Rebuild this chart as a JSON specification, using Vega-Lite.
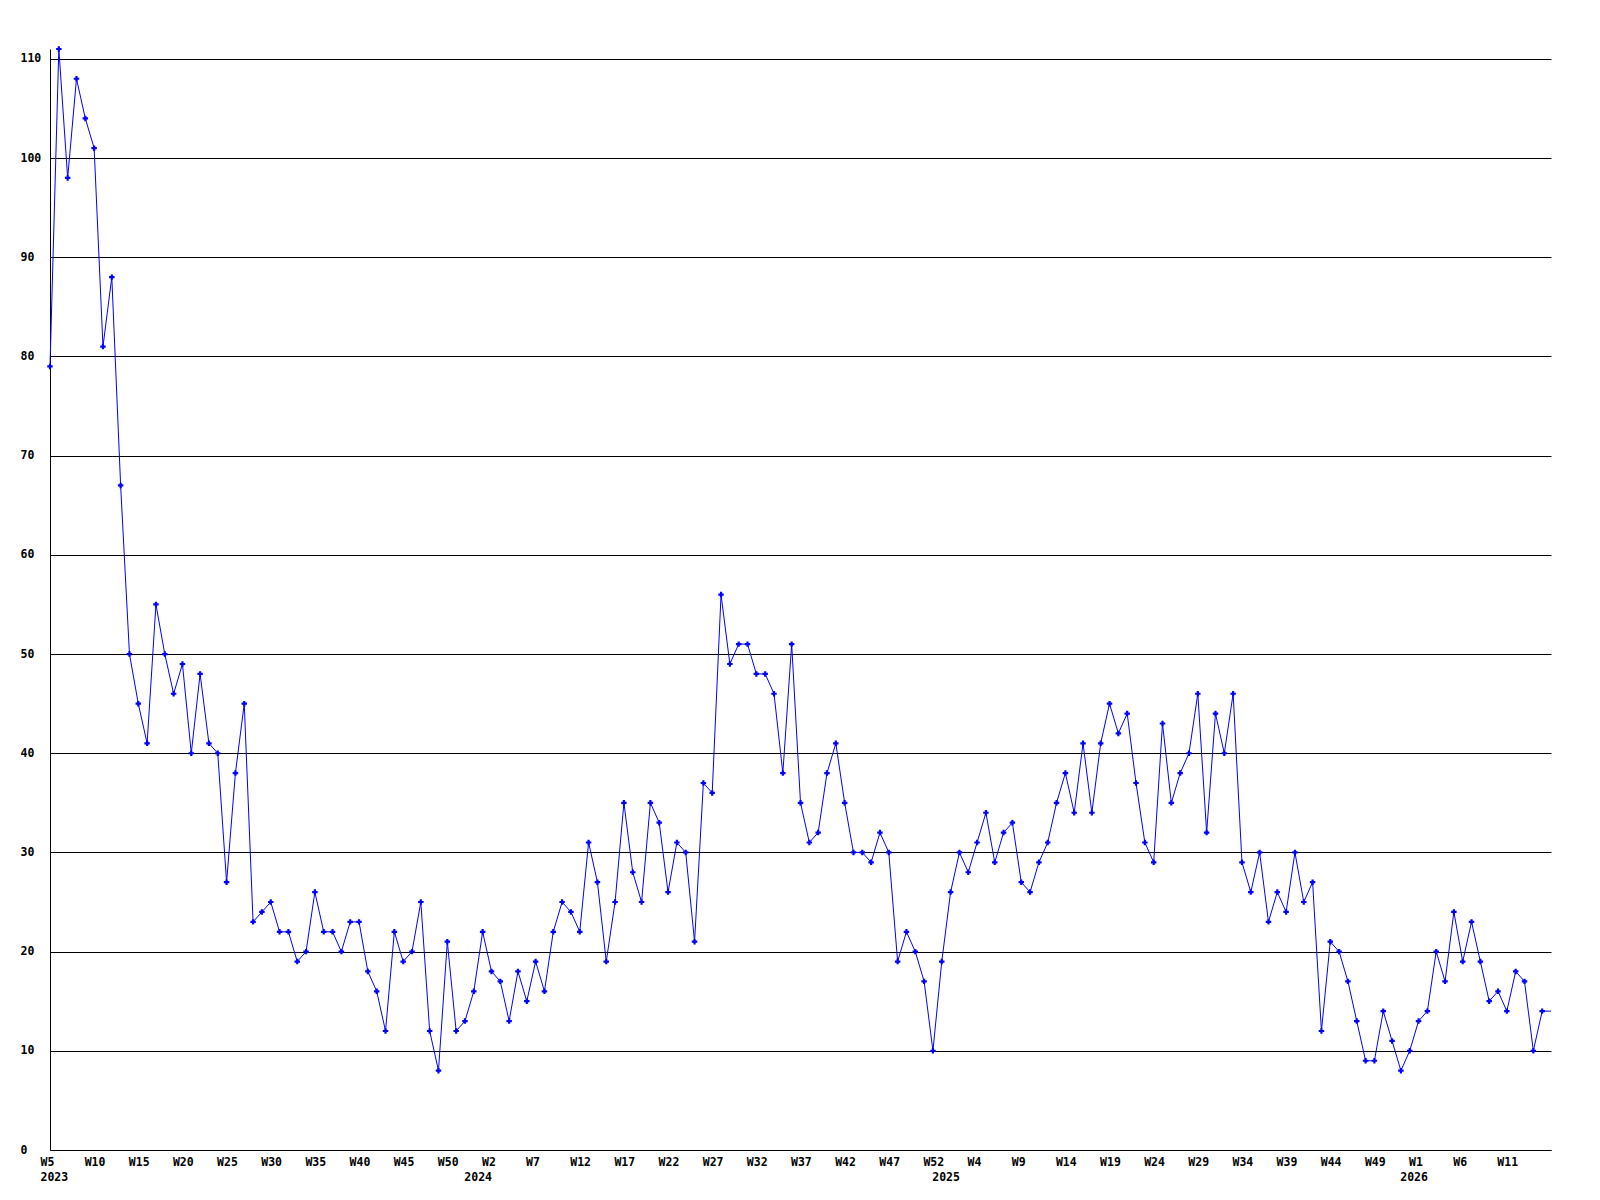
{
  "$schema": "https://vega.github.io/schema/vega-lite/v6.json",
  "width": 1501,
  "height": 1101,
  "autosize": "none",
  "padding": {"left": 50, "top": 49, "right": 49, "bottom": 50},
  "background": "white",
  "config": {"view": {"stroke": null}, "font": "DejaVu Sans Mono"},
  "data": {"values": [
    {"week":"2023-W05","n":79},{"week":"2023-W06","n":111},{"week":"2023-W07","n":98},{"week":"2023-W08","n":108},{"week":"2023-W09","n":104},
    {"week":"2023-W10","n":101},{"week":"2023-W11","n":81},{"week":"2023-W12","n":88},{"week":"2023-W13","n":67},{"week":"2023-W14","n":50},
    {"week":"2023-W15","n":45},{"week":"2023-W16","n":41},{"week":"2023-W17","n":55},{"week":"2023-W18","n":50},{"week":"2023-W19","n":46},
    {"week":"2023-W20","n":49},{"week":"2023-W21","n":40},{"week":"2023-W22","n":48},{"week":"2023-W23","n":41},{"week":"2023-W24","n":40},
    {"week":"2023-W25","n":27},{"week":"2023-W26","n":38},{"week":"2023-W27","n":45},{"week":"2023-W28","n":23},{"week":"2023-W29","n":24},
    {"week":"2023-W30","n":25},{"week":"2023-W31","n":22},{"week":"2023-W32","n":22},{"week":"2023-W33","n":19},{"week":"2023-W34","n":20},
    {"week":"2023-W35","n":26},{"week":"2023-W36","n":22},{"week":"2023-W37","n":22},{"week":"2023-W38","n":20},{"week":"2023-W39","n":23},
    {"week":"2023-W40","n":23},{"week":"2023-W41","n":18},{"week":"2023-W42","n":16},{"week":"2023-W43","n":12},{"week":"2023-W44","n":22},
    {"week":"2023-W45","n":19},{"week":"2023-W46","n":20},{"week":"2023-W47","n":25},{"week":"2023-W48","n":12},{"week":"2023-W49","n":8},
    {"week":"2023-W50","n":21},{"week":"2023-W51","n":12},{"week":"2023-W52","n":13},
    {"week":"2024-W00","n":16},{"week":"2024-W01","n":22},{"week":"2024-W02","n":18},{"week":"2024-W03","n":17},{"week":"2024-W04","n":13},
    {"week":"2024-W05","n":18},{"week":"2024-W06","n":15},{"week":"2024-W07","n":19},{"week":"2024-W08","n":16},{"week":"2024-W09","n":22},
    {"week":"2024-W10","n":25},{"week":"2024-W11","n":24},{"week":"2024-W12","n":22},{"week":"2024-W13","n":31},{"week":"2024-W14","n":27},
    {"week":"2024-W15","n":19},{"week":"2024-W16","n":25},{"week":"2024-W17","n":35},{"week":"2024-W18","n":28},{"week":"2024-W19","n":25},
    {"week":"2024-W20","n":35},{"week":"2024-W21","n":33},{"week":"2024-W22","n":26},{"week":"2024-W23","n":31},{"week":"2024-W24","n":30},
    {"week":"2024-W25","n":21},{"week":"2024-W26","n":37},{"week":"2024-W27","n":36},{"week":"2024-W28","n":56},{"week":"2024-W29","n":49},
    {"week":"2024-W30","n":51},{"week":"2024-W31","n":51},{"week":"2024-W32","n":48},{"week":"2024-W33","n":48},{"week":"2024-W34","n":46},
    {"week":"2024-W35","n":38},{"week":"2024-W36","n":51},{"week":"2024-W37","n":35},{"week":"2024-W38","n":31},{"week":"2024-W39","n":32},
    {"week":"2024-W40","n":38},{"week":"2024-W41","n":41},{"week":"2024-W42","n":35},{"week":"2024-W43","n":30},{"week":"2024-W44","n":30},
    {"week":"2024-W45","n":29},{"week":"2024-W46","n":32},{"week":"2024-W47","n":30},{"week":"2024-W48","n":19},{"week":"2024-W49","n":22},
    {"week":"2024-W50","n":20},{"week":"2024-W51","n":17},{"week":"2024-W52","n":10},
    {"week":"2025-W00","n":19},{"week":"2025-W01","n":26},{"week":"2025-W02","n":30},{"week":"2025-W03","n":28},{"week":"2025-W04","n":31},
    {"week":"2025-W05","n":34},{"week":"2025-W06","n":29},{"week":"2025-W07","n":32},{"week":"2025-W08","n":33},{"week":"2025-W09","n":27},
    {"week":"2025-W10","n":26},{"week":"2025-W11","n":29},{"week":"2025-W12","n":31},{"week":"2025-W13","n":35},{"week":"2025-W14","n":38},
    {"week":"2025-W15","n":34},{"week":"2025-W16","n":41},{"week":"2025-W17","n":34},{"week":"2025-W18","n":41},{"week":"2025-W19","n":45},
    {"week":"2025-W20","n":42},{"week":"2025-W21","n":44},{"week":"2025-W22","n":37},{"week":"2025-W23","n":31},{"week":"2025-W24","n":29},
    {"week":"2025-W25","n":43},{"week":"2025-W26","n":35},{"week":"2025-W27","n":38},{"week":"2025-W28","n":40},{"week":"2025-W29","n":46},
    {"week":"2025-W30","n":32},{"week":"2025-W31","n":44},{"week":"2025-W32","n":40},{"week":"2025-W33","n":46},{"week":"2025-W34","n":29},
    {"week":"2025-W35","n":26},{"week":"2025-W36","n":30},{"week":"2025-W37","n":23},{"week":"2025-W38","n":26},{"week":"2025-W39","n":24},
    {"week":"2025-W40","n":30},{"week":"2025-W41","n":25},{"week":"2025-W42","n":27},{"week":"2025-W43","n":12},{"week":"2025-W44","n":21},
    {"week":"2025-W45","n":20},{"week":"2025-W46","n":17},{"week":"2025-W47","n":13},{"week":"2025-W48","n":9},{"week":"2025-W49","n":9},
    {"week":"2025-W50","n":14},{"week":"2025-W51","n":11},{"week":"2025-W52","n":8},
    {"week":"2026-W00","n":10},{"week":"2026-W01","n":13},{"week":"2026-W02","n":14},{"week":"2026-W03","n":20},{"week":"2026-W04","n":17},
    {"week":"2026-W05","n":24},{"week":"2026-W06","n":19},{"week":"2026-W07","n":23},{"week":"2026-W08","n":19},{"week":"2026-W09","n":15},
    {"week":"2026-W10","n":16},{"week":"2026-W11","n":14},{"week":"2026-W12","n":18},{"week":"2026-W13","n":17},{"week":"2026-W14","n":10},
    {"week":"2026-W15","n":14},{"week":"2026-W16","n":14}
  ]},
  "encoding": {
    "y": {
      "field": "n", "type": "quantitative",
      "scale": {"domain": [0, 111], "nice": false, "zero": true},
      "axis": {
        "title": null,
        "values": [0, 10, 20, 30, 40, 50, 60, 70, 80, 90, 100, 110],
        "grid": true, "gridColor": "black", "gridWidth": 1, "gridOpacity": 1,
        "domain": true, "domainColor": "black", "domainWidth": 1,
        "ticks": false, "tickSize": 0,
        "labelAlign": "left", "labelBaseline": "middle", "labelPadding": 30,
        "labelFont": "DejaVu Sans Mono", "labelFontWeight": "bold", "labelFontSize": 11.5, "labelColor": "black",
        "labelOverlap": false
      }
    }
  },
  "layer": [
    {
      "mark": {"type": "line", "color": "#0000ff", "strokeWidth": 1},
      "encoding": {
        "x": {
          "field": "week", "type": "ordinal", "sort": "ascending",
          "scale": {"type": "point", "padding": 0},
          "axis": {
            "orient": "bottom",
            "title": null,
            "values": ["2023-W05","2023-W10","2023-W15","2023-W20","2023-W25","2023-W30","2023-W35","2023-W40","2023-W45","2023-W50",
                       "2024-W02","2024-W07","2024-W12","2024-W17","2024-W22","2024-W27","2024-W32","2024-W37","2024-W42","2024-W47","2024-W52",
                       "2025-W04","2025-W09","2025-W14","2025-W19","2025-W24","2025-W29","2025-W34","2025-W39","2025-W44","2025-W49",
                       "2026-W01","2026-W06","2026-W11"],
            "labelExpr": "'W' + toNumber(substring(datum.value, 6))",
            "grid": false, "ticks": false, "tickSize": 0,
            "domain": true, "domainColor": "black", "domainWidth": 1,
            "labelAlign": "left", "labelOffset": -10, "labelBaseline": "top", "labelPadding": 6, "labelAngle": 0,
            "labelFont": "DejaVu Sans Mono", "labelFontWeight": "bold", "labelFontSize": 11.5, "labelColor": "black",
            "labelOverlap": false, "labelFlush": false
          }
        }
      }
    },
    {
      "transform": [{"filter": "datum.week != '2026-W16'"}],
      "mark": {"type": "point", "shape": "cross", "filled": true, "color": "#0000ff", "size": 30, "opacity": 1},
      "encoding": {
        "x": {
          "field": "week", "type": "ordinal", "sort": "ascending",
          "scale": {"type": "point", "padding": 0},
          "axis": {
            "orient": "bottom",
            "title": null,
            "values": ["2023-W05", "2024-W00", "2025-W00", "2026-W00"],
            "labelExpr": "substring(datum.value, 0, 4)",
            "grid": false, "ticks": false, "tickSize": 0, "domain": false,
            "labelAlign": "left", "labelOffset": -10, "labelBaseline": "top", "labelPadding": 21, "labelAngle": 0,
            "labelFont": "DejaVu Sans Mono", "labelFontWeight": "bold", "labelFontSize": 11.5, "labelColor": "black",
            "labelOverlap": false, "labelFlush": false
          }
        }
      }
    }
  ],
  "resolve": {"axis": {"x": "independent"}}
}
